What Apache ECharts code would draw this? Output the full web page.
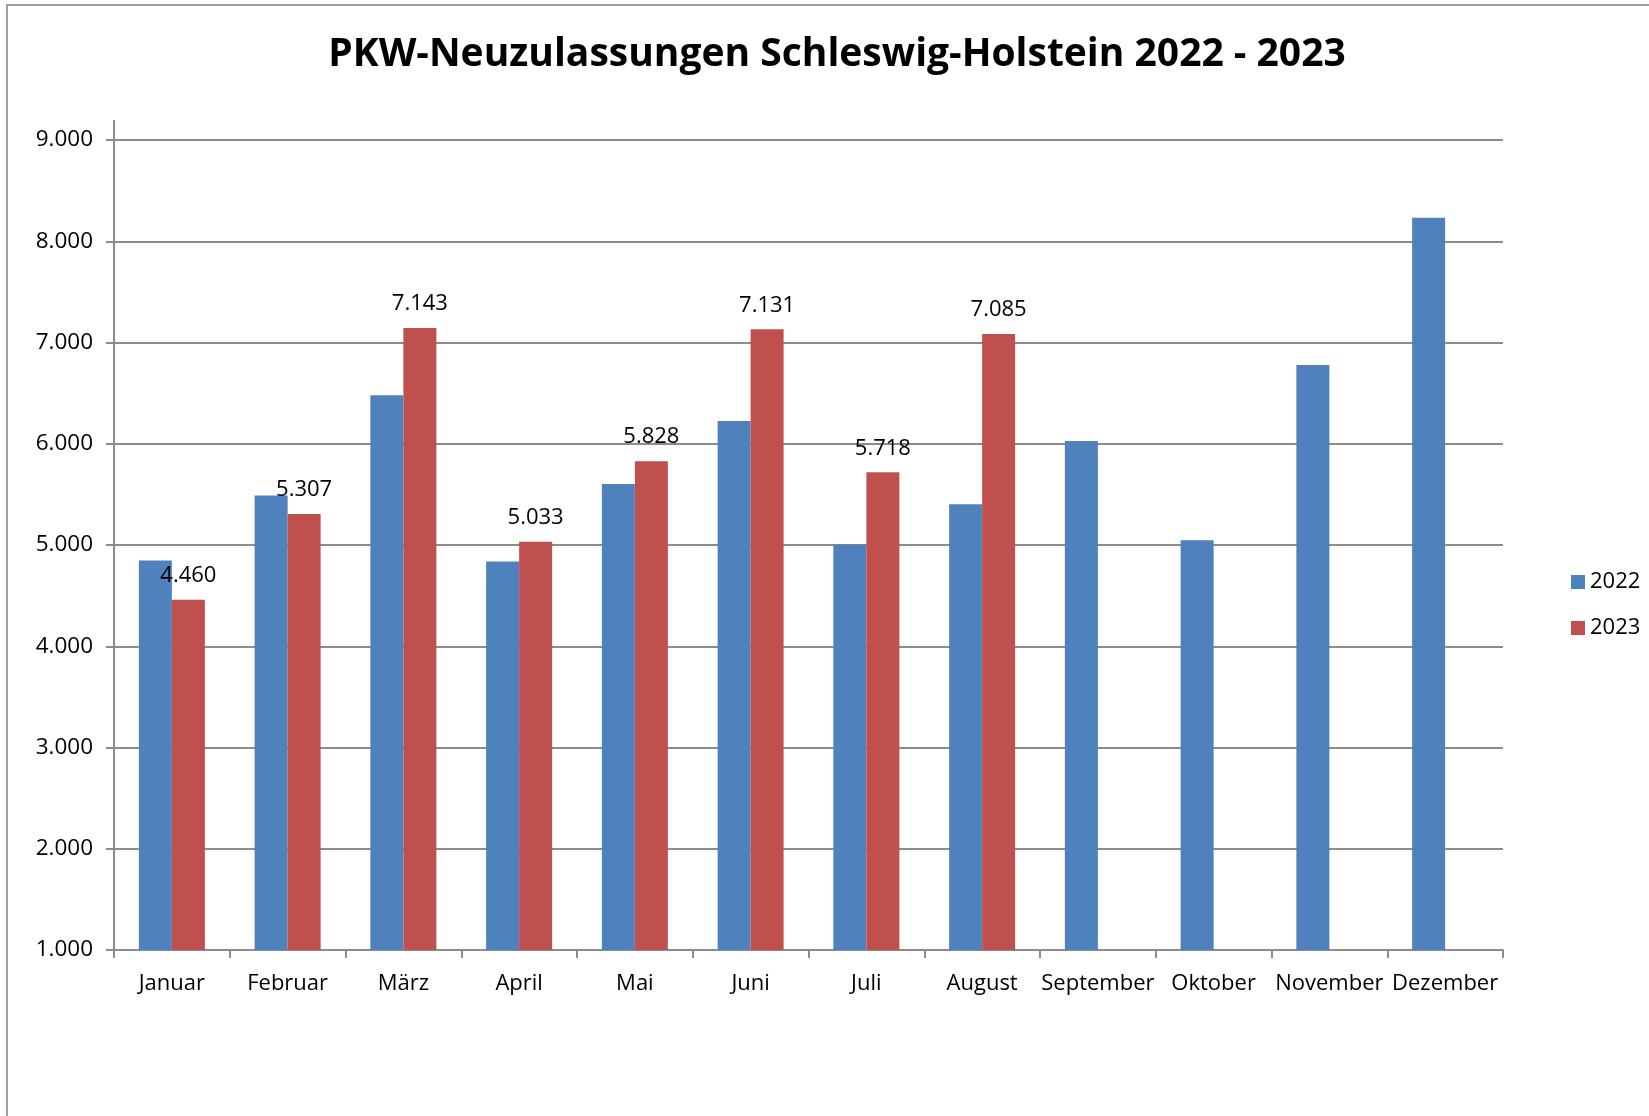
<!DOCTYPE html>
<html>
<head>
<meta charset="utf-8">
<script src="https://cdn.jsdelivr.net/npm/echarts@6/dist/echarts.min.js"></script>
<style>
html,body{margin:0;padding:0;background:#fff;}
#chart{width:1649px;height:1116px;}
</style>
</head>
<body>
<div id="chart"></div>
<script>
const months = ['Januar','Februar','März','April','Mai','Juni','Juli','August','September','Oktober','November','Dezember'];
const values2022 = [4848, 5488, 6478, 4838, 5602, 6225, 5005, 5402, 6027, 5046, 6778, 8233];
const values2023 = [4460, 5307, 7143, 5033, 5828, 7131, 5718, 7085, null, null, null, null];
const seriesNames = ['2022', '2023'];
const yTicks = {min: 1000, max: 9000, interval: 1000};

function fmt(v) {
  return String(Math.round(v)).replace(/\B(?=(\d{3})+(?!\d))/g, '.');
}

const chart = echarts.init(document.getElementById('chart'));
const FONT = "'Open Sans', sans-serif";
const GRAY = '#8c8c8c';

chart.setOption({
  animation: false,
  backgroundColor: '#ffffff',
  title: {
    text: 'PKW-Neuzulassungen Schleswig-Holstein 2022 - 2023',
    left: 837,
    textAlign: 'center',
    top: 35,
    padding: 0,
    textStyle: {
      fontFamily: FONT,
      fontWeight: 'bold',
      fontSize: 39,
      color: '#000'
    }
  },
  legend: {
    orient: 'vertical',
    left: 1566,
    top: 566,
    itemWidth: 14,
    itemHeight: 14,
    itemGap: 24,
    icon: 'rect',
    data: seriesNames,
    textStyle: {fontFamily: FONT, fontSize: 22, color: '#000', lineHeight: 22}
  },
  grid: {left: 114, right: 146, top: 140, bottom: 166, containLabel: false},
  xAxis: {
    type: 'category',
    data: months,
    boundaryGap: true,
    axisLine: {lineStyle: {color: GRAY, width: 2}},
    axisTick: {show: true, length: 8, lineStyle: {color: GRAY, width: 2}},
    axisLabel: {fontFamily: FONT, fontSize: 22, color: '#000', margin: 23, interval: 0}
  },
  yAxis: {
    type: 'value',
    min: yTicks.min,
    max: yTicks.max,
    interval: yTicks.interval,
    axisLine: {show: true, lineStyle: {color: GRAY, width: 2}},
    axisTick: {show: true, length: 8, lineStyle: {color: GRAY, width: 2}},
    axisLabel: {fontFamily: FONT, fontSize: 22.5, color: '#000', margin: 21, formatter: fmt},
    splitLine: {show: true, lineStyle: {color: GRAY, width: 2}}
  },
  graphic: [
    {type: 'rect', shape: {x: 7, y: 5, width: 1700, height: 1200}, style: {fill: 'none', stroke: '#a0a0a0', lineWidth: 2}, z: -10, silent: true},
    {type: 'line', shape: {x1: 114, y1: 120, x2: 114, y2: 140}, style: {stroke: GRAY, lineWidth: 2}, silent: true}
  ],
  series: [
    {
      name: seriesNames[0],
      type: 'bar',
      data: values2022,
      barWidth: 33,
      barGap: '0%',
      itemStyle: {color: '#4F81BD'}
    },
    {
      name: seriesNames[1],
      type: 'bar',
      data: values2023,
      barWidth: 33,
      barGap: '0%',
      itemStyle: {color: '#C0504D'},
      label: {
        show: true,
        position: 'top',
        distance: 13,
        fontFamily: FONT,
        fontSize: 22,
        color: '#000',
        formatter: p => fmt(p.value)
      }
    }
  ]
});
</script>
</body>
</html>
